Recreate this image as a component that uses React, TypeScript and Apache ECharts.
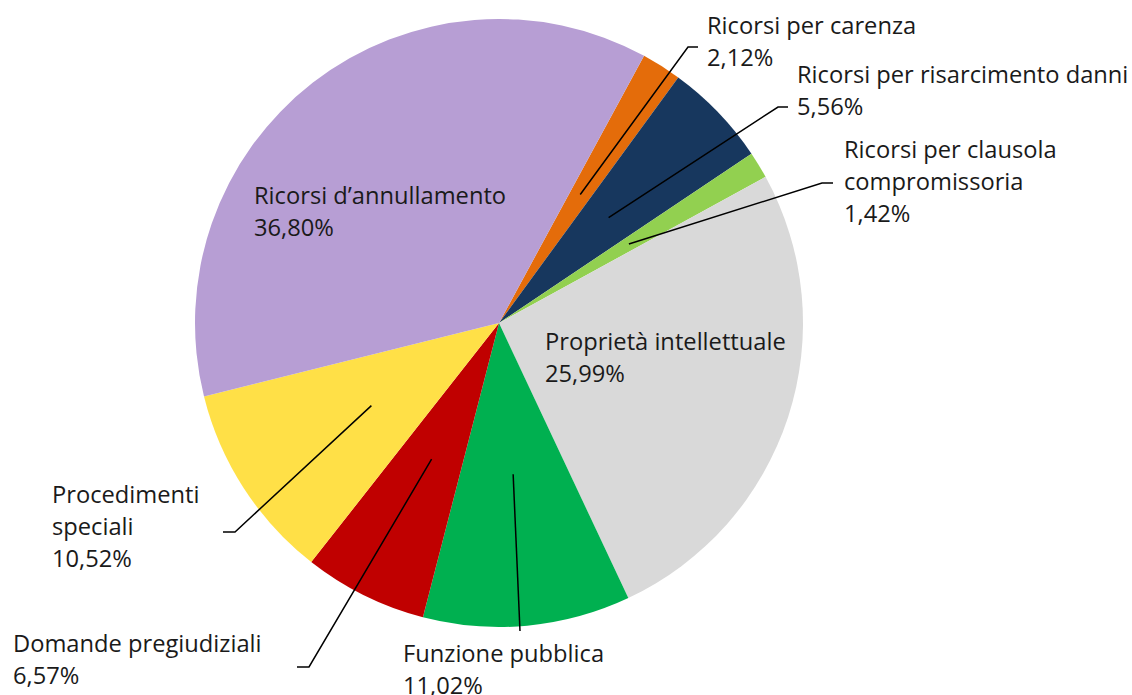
import React, { useEffect, useRef } from "react";
import * as echarts from "echarts";

const categories = [
  "Ricorsi per carenza",
  "Ricorsi per risarcimento danni",
  "Ricorsi per clausola\ncompromissoria",
  "Proprietà intellettuale",
  "Funzione pubblica",
  "Domande pregiudiziali",
  "Procedimenti\nspeciali",
  "Ricorsi d’annullamento",
];
const values = [2.12, 5.56, 1.42, 25.99, 11.02, 6.57, 10.52, 36.8];
const colors = ["#E46C0A", "#17375E", "#92D050", "#D9D9D9", "#00B050", "#C00000", "#FFE047", "#B79ED4"];

// label layout (positions only): text box top-left, leader elbow and end
const CX = 499;
const CY = 323;
const R = 304;
const START_ANGLE = 61.5;
const labelBoxes: [number, number][] = [
  [707, 9],
  [797, 58],
  [844, 133],
  [545, 325],
  [403, 637],
  [13, 627],
  [52, 478],
  [254, 179],
];
const elbows: ([number, number] | null)[] = [
  [688, 47],
  [778, 107],
  [822, 183],
  null,
  [520, 631],
  [309, 667],
  [235, 532],
  null,
];
const ends: ([number, number] | null)[] = [
  [698, 47],
  [788, 107],
  [833, 183],
  null,
  null,
  [297, 667],
  [223, 532],
  null,
];

function fmt(v: number) {
  return v.toFixed(2).replace(".", ",") + "%";
}

export default function App() {
  const ref = useRef<HTMLDivElement>(null);
  useEffect(() => {
    if (!ref.current) return;
    const chart = echarts.init(ref.current, undefined, { renderer: "svg" });
    const total = values.reduce((a, b) => a + b, 0);
    const midAngles: number[] = [];
    let acc = 0;
    values.forEach((v) => {
      const a = 90 - START_ANGLE + ((acc + v / 2) / total) * 360; // clockwise from top
      midAngles.push(a);
      acc += v;
    });
    const base = {
      type: "pie",
      center: [CX, CY],
      radius: R,
      startAngle: START_ANGLE,
      clockwise: true,
      silent: true,
      avoidLabelOverlap: false,
    };
    chart.setOption({
      animation: false,
      series: [
        {
          ...base,
          z: 2,
          itemStyle: { borderWidth: 0 },
          label: { show: false },
          labelLine: { show: false },
          data: values.map((v, i) => ({
            name: categories[i],
            value: v,
            itemStyle: { color: colors[i] },
          })),
        },
        {
          ...base,
          z: 5,
          itemStyle: { color: "rgba(0,0,0,0)", borderWidth: 0 },
          label: {
            show: true,
            position: "outside",
            formatter: (p: any) => p.name + "\n" + fmt(p.value),
            fontFamily: "Open Sans",
            fontSize: 23.7,
            lineHeight: 32,
            color: "#1a1a1a",
            align: "left",
          },
          labelLine: {
            show: true,
            showAbove: true,
            lineStyle: { color: "#000", width: 1.5 },
          },
          labelLayout: (params: any) => {
            const i = params.dataIndex;
            const box = labelBoxes[i];
            const out: any = { x: box[0], y: box[1], align: "left", verticalAlign: "top" };
            const el = elbows[i];
            if (el) {
              const rad = (midAngles[i] * Math.PI) / 180;
              const s = [CX + 0.5 * R * Math.sin(rad), CY - 0.5 * R * Math.cos(rad)];
              const e = ends[i] || el;
              out.labelLinePoints = [s, el, e];
            }
            return out;
          },
          data: values.map((v, i) => ({
            name: categories[i],
            value: v,
            labelLine: { show: elbows[i] !== null },
          })),
        },
      ],
    });
    return () => chart.dispose();
  }, []);
  return (
    <div
      ref={ref}
      style={{ position: "absolute", left: 0, top: 0, width: 1132, height: 695, background: "#fff" }}
    />
  );
}
